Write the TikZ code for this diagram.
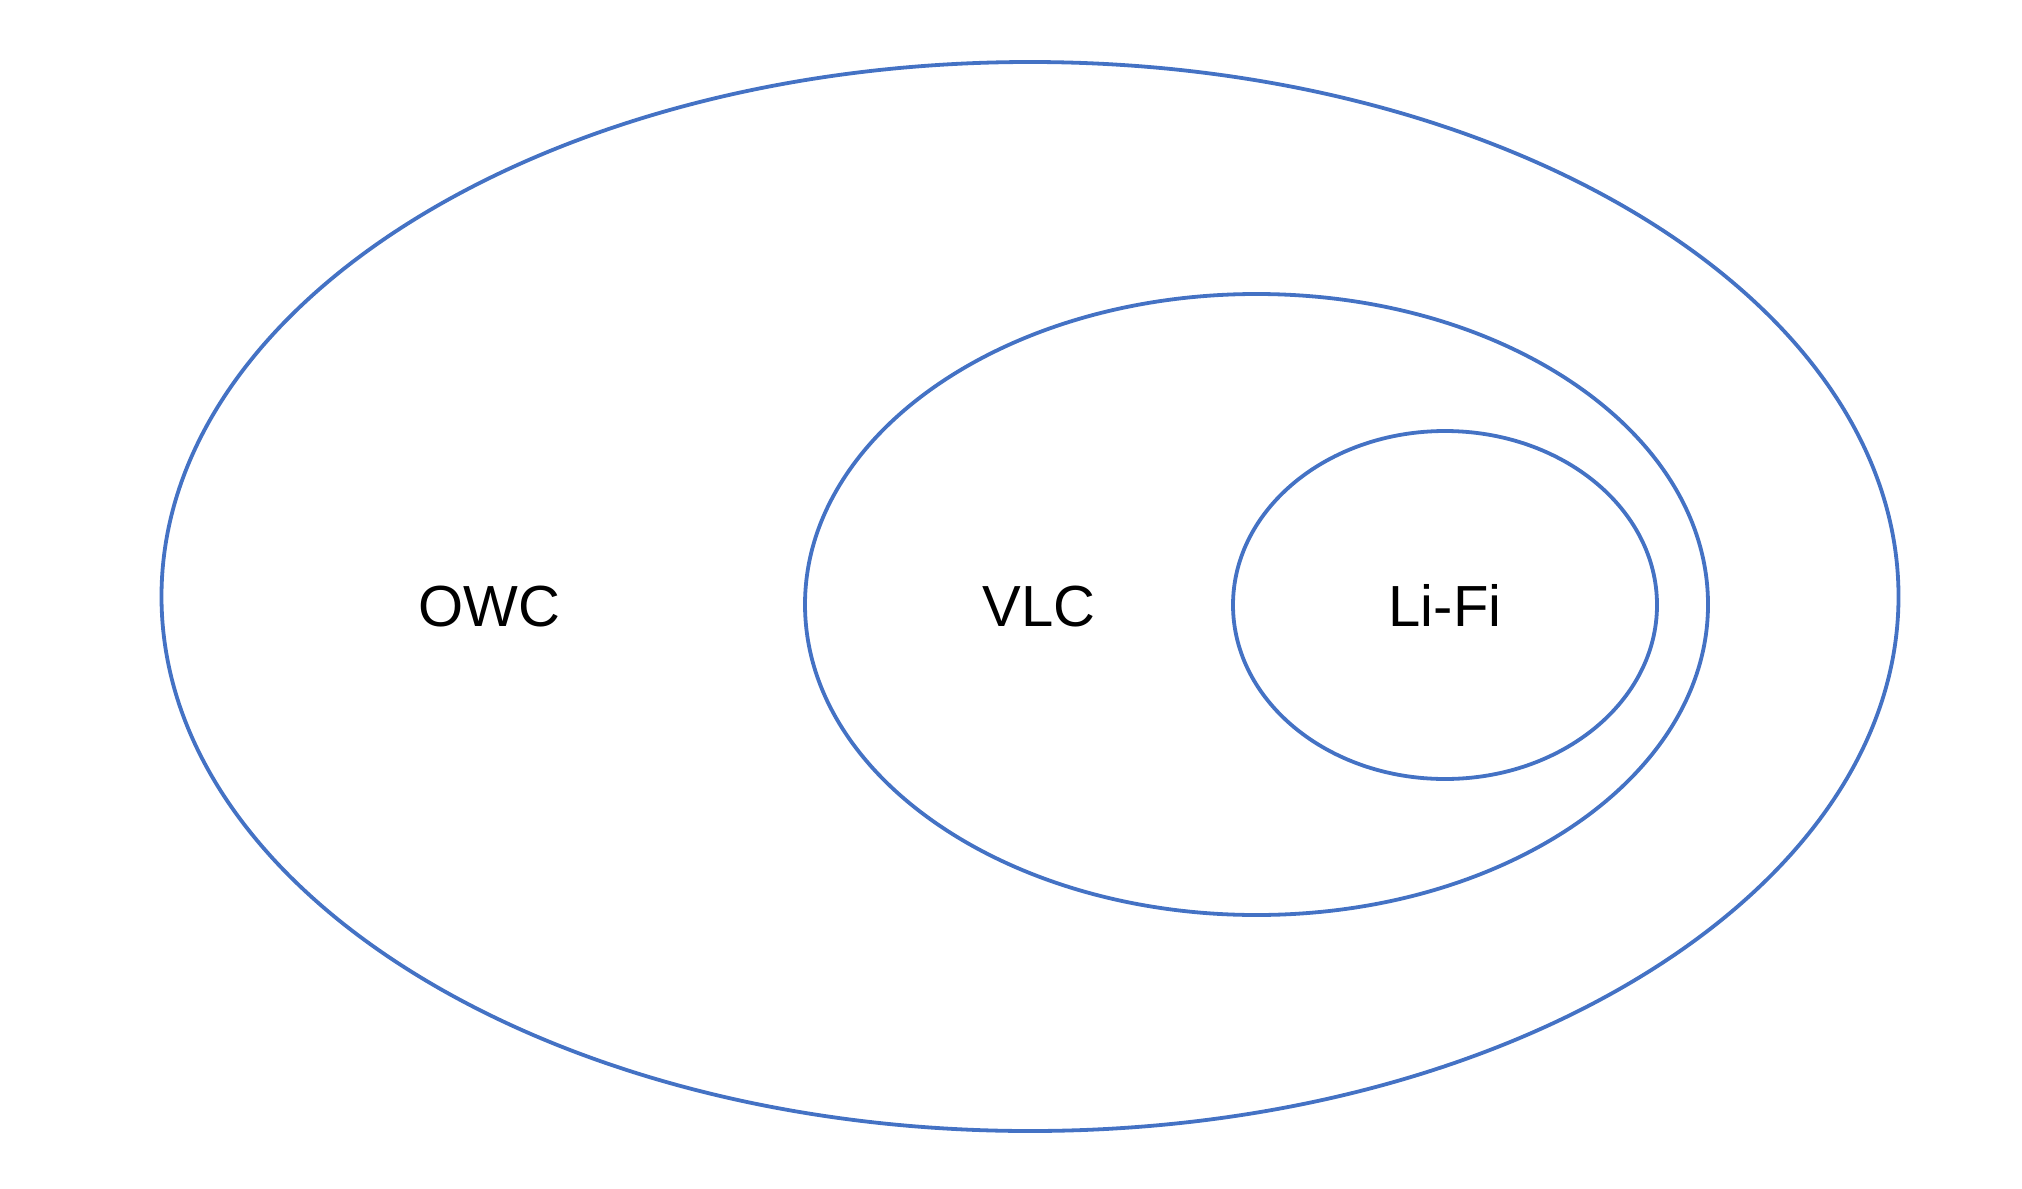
\documentclass[tikz,border=0pt]{standalone}
\usepackage{fontspec}
\setmainfont{Liberation Sans}
\usepackage{tikz}
\usetikzlibrary{shapes.geometric}
\definecolor{setblue}{HTML}{4472C4}

\begin{document}
\begin{tikzpicture}[x=0.5pt,y=-0.5pt,
						set/.style={draw=setblue, ellipse, line width=1.9pt, inner sep=0pt},
						tag/.style={anchor=base, font=\fontsize{29}{35}\selectfont}]

						\useasboundingbox (0,0) rectangle (2022,1188);

						%%% Nested sets
						\node at (1030, 596.5) [set, minimum width=868.5pt, minimum height=534.5pt] (owc) {};
						\node at (1256.5, 604.5) [set, minimum width=451.5pt, minimum height=310.5pt] (vlc) {};
						\node at (1445, 605) [set, minimum width=212pt, minimum height=174pt] (lifi) {};

						%%% Labels
						\node at (489, 626) [tag] (owclabel) {OWC};
						\node at (1039, 626) [tag] (vlclabel) {VLC};
						\node at (1445, 626) [tag] (lifilabel) {Li-Fi};
					\end{tikzpicture}
\end{document}
